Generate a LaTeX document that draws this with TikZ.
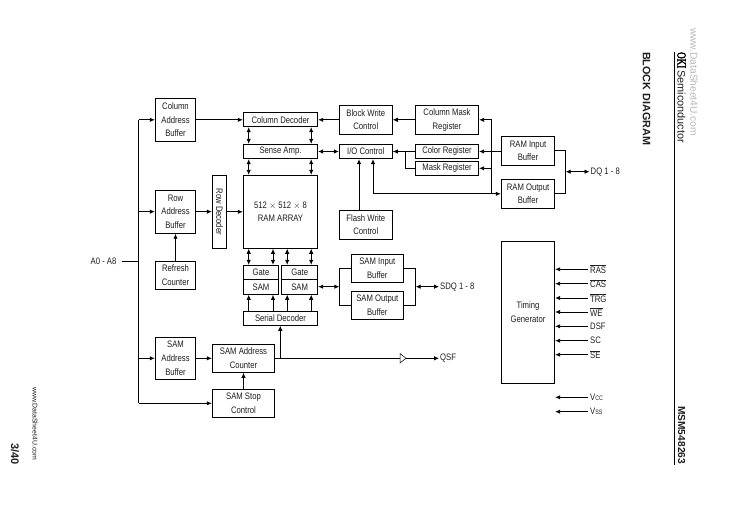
\documentclass[tikz,border=0pt]{standalone}
\usepackage{fontspec}
\setmainfont{Liberation Sans}[FakeStretch=0.82]
\newfontfamily\plainsans{Liberation Sans}
\newfontfamily\okifont{Liberation Serif}[FakeStretch=0.72,FakeBold=2.5]
\usetikzlibrary{arrows.meta,calc}
\definecolor{ink}{gray}{0.12}
\definecolor{wm}{gray}{0.72}
\tikzset{
  box/.style={draw=black,line width=0.9pt,fill=white,inner sep=0pt,align=center,text=ink,
    font=\fontsize{9.4}{13.6}\selectfont},
  wire/.style={draw=black,line width=0.9pt},
  to/.style={wire,-{Latex[length=5pt,width=4.5pt]}},
  both/.style={wire,{Latex[length=5pt,width=4.5pt]}-{Latex[length=5pt,width=4.5pt]}},
  lab/.style={inner sep=0pt,text=ink,font=\fontsize{9.4}{10}\selectfont,anchor=west},
}
\newcommand{\blk}[6]{%
  \pgfmathsetmacro{\bw}{#4-#2}\pgfmathsetmacro{\bh}{#5-#3}%
  \pgfmathsetmacro{\bx}{(#2+#4)/2}\pgfmathsetmacro{\by}{(#3+#5)/2}%
  \node[box,minimum width=\bw pt,minimum height=\bh pt] (#1) at (\bx,\by) {#6};}
\begin{document}
\begin{tikzpicture}[x=1pt,y=-1pt]
\useasboundingbox (0,0) rectangle (729,516);
% column positions
\coordinate (xa) at (248.7,0);
\coordinate (xb) at (273,0);
\coordinate (xc) at (287.2,0);
\coordinate (xd) at (311.2,0);
\coordinate (bus) at (138.7,0);
\coordinate (xf) at (359,0);
\coordinate (xo) at (373,0);
\coordinate (xm) at (405.3,0);
\coordinate (xv) at (491.7,0);
\coordinate (xq) at (565.7,0);
\coordinate (xl) at (339.3,0);
\coordinate (xr) at (415.7,0);
\coordinate (xt) at (280.3,0);
% blocks
\blk{cab}{155.3}{98.3}{195.7}{141.3}{Column\\Address\\Buffer}
\blk{rab}{155.3}{190}{195.7}{233.3}{Row\\Address\\Buffer}
\blk{ref}{155.3}{261.3}{195.7}{289.3}{Refresh\\Counter}
\blk{sab}{155.3}{337.3}{195.7}{379.3}{SAM\\Address\\Buffer}
\blk{cd}{243.3}{112.7}{317.7}{126.7}{Column Decoder}
\blk{sa}{243.3}{144.3}{317.7}{158.7}{Sense Amp.}
\blk{ram}{243.3}{175.3}{317.7}{248.3}{512 $\times$ 512 $\times$ 8\\RAM ARRAY}
\node[box,minimum width=14.4pt,minimum height=73pt] (rd) at (219.5,211.8) {};
\node[inner sep=0pt,rotate=-90,text=ink,font=\fontsize{9.4}{10}\selectfont] (rdt) at (219.5,211.8) {Row Decoder};
\blk{g1}{243.3}{265.3}{278.7}{279.3}{Gate}
\blk{s1}{243.3}{279.3}{278.7}{294.3}{SAM}
\blk{g2}{281.7}{265.3}{317.7}{279.3}{Gate}
\blk{s2}{281.7}{279.3}{317.7}{294.3}{SAM}
\blk{sd}{243.3}{311.3}{317.7}{325.3}{Serial Decoder}
\blk{sac}{212.3}{344.3}{274.7}{372.3}{SAM Address\\Counter}
\blk{ssc}{212.3}{389.3}{274.7}{417.3}{SAM Stop\\Control}
\blk{bwc}{339.3}{105.3}{392.3}{134.3}{Block Write\\Control}
\blk{io}{339.3}{144.3}{392.3}{158.7}{I/O Control}
\blk{fwc}{339.3}{210.3}{392.3}{239.3}{Flash Write\\Control}
\blk{cmr}{415.3}{105.3}{478.7}{134.3}{Column Mask\\Register}
\blk{cr}{415.3}{144.3}{478.7}{158.7}{Color Register}
\blk{mr}{415.3}{161.3}{478.7}{175.3}{Mask Register}
\blk{rib}{501.3}{136.3}{554.7}{165.3}{RAM Input\\Buffer}
\blk{rob}{501.3}{179.3}{554.7}{208.3}{RAM Output\\Buffer}
\blk{sib}{351.3}{254.3}{403.3}{282.3}{SAM Input\\Buffer}
\blk{sob}{351.3}{291.3}{403.3}{319.3}{SAM Output\\Buffer}
\blk{tg}{501.3}{241.3}{554.7}{383.3}{Timing\\Generator}
% address bus
\node[lab] (addr) at (90.5,261.3) {A0 - A8};
\coordinate (addrs) at (122.3,261.3);
\draw[wire] (addrs) -- (addrs -| bus);
\draw[wire] (cab.west -| bus) -- (bus |- 0,403.3);
\draw[to] (cab.west -| bus) -- (cab.west);
\draw[to] (rab.west -| bus) -- (rab.west);
\draw[to] (sab.west -| bus) -- (sab.west);
\draw[to] (bus |- ssc.west) -- (ssc.west);
\draw[to] (cab.east) -- (cab.east -| cd.west);
\draw[to] (rab.east) -- (rab.east -| rd.west);
\draw[to] (rd.east) -- (ram.west);
\draw[to] (ref.north) -- (rab.south);
\draw[to] (sab.east) -- (sac.west);
\draw[to] (ssc.north) -- (sac.south);
\draw[to] (sac.east -| xt) -- (sd.south -| xt);
% array column links
\draw[both] (cd.south -| xa) -- (sa.north -| xa);
\draw[both] (cd.south -| xd) -- (sa.north -| xd);
\draw[both] (sa.south -| xa) -- (ram.north -| xa);
\draw[both] (sa.south -| xd) -- (ram.north -| xd);
\draw[both] (ram.south -| xa) -- (g1.north -| xa);
\draw[both] (ram.south -| xb) -- (g1.north -| xb);
\draw[both] (ram.south -| xc) -- (g2.north -| xc);
\draw[both] (ram.south -| xd) -- (g2.north -| xd);
\draw[to] (sd.north -| xa) -- (s1.south -| xa);
\draw[to] (sd.north -| xb) -- (s1.south -| xb);
\draw[to] (sd.north -| xc) -- (s2.south -| xc);
\draw[to] (sd.north -| xd) -- (s2.south -| xd);
% data path
\draw[to] (bwc.west) -- (bwc.west -| cd.east);
\draw[to] (cmr.west) -- (bwc.east);
\draw[both] (sa.east) -- (io.west);
\draw[to] (cr.west) -- (io.east);
\coordinate (mrj) at (cr.west -| xm);
\draw[wire] (mrj) |- (mr.west);
\draw[to] (fwc.north -| xf) -- (io.south -| xf);
\draw[to] (cr.east -| rib.west) -- (cr.east);
\coordinate (vtop) at (cmr.east -| xv);
\coordinate (vbot) at (rob.west -| xv);
\draw[wire] (vtop) -- (vbot);
\draw[to] (vtop) -- (cmr.east);
\draw[to] (mr.east -| xv) -- (mr.east);
\draw[to] (rob.west -| xo) -- (io.south -| xo);
\draw[to] (rob.west -| xo) -- (rob.west);
\draw[wire] (rib.east) -| (xq |- rob.east) -- (rob.east);
\node[lab] (dq) at (590.5,171.7) {DQ 1 - 8};
\draw[both] (dq.west -| xq) -- ($(dq.west)+(-1,0)$);
% SAM buffers
\draw[wire] (sib.west) -| (xl |- sob.west) -- (sob.west);
\draw[wire] (sib.east) -| (xr |- sob.east) -- (sob.east);
\coordinate (samj) at (xl |- 0,286.7);
\draw[both] (samj -| s2.east) -- (samj);
\node[lab] (sdq) at (440,286.7) {SDQ 1 - 8};
\draw[both] (sdq.west -| xr) -- ($(sdq.west)+(-1,0)$);
% QSF
\node[lab] (qsf) at (440,358.3) {QSF};
\coordinate (ba) at (400,358.3);
\coordinate (bb) at (406,358.3);
\draw[wire] (sac.east) -- (ba);
\draw[line width=0.5pt,fill=white] (400,353.5) -- (bb) -- (400,363) -- cycle;
\draw[to] (bb) -- ($(qsf.west)+(-1,0)$);
% timing inputs
\node[lab] (ras) at (590,269.3) {$\overline{\hbox{RAS}}$};
\node[lab] (cas) at (590,283.7) {$\overline{\hbox{CAS}}$};
\node[lab] (trg) at (590,298) {$\overline{\hbox{TRG}}$};
\node[lab] (we)  at (590,312) {$\overline{\hbox{WE}}$};
\node[lab] (dsf) at (590,326.3) {DSF};
\node[lab] (sc)  at (590,340.7) {SC};
\node[lab] (se)  at (590,354.7) {$\overline{\hbox{SE}}$};
\node[lab] (vcc) at (590,397.3) {V{\fontsize{6.5}{7}\selectfont CC}};
\node[lab] (vss) at (590,411.7) {V{\fontsize{6.5}{7}\selectfont SS}};
\foreach \n in {ras,cas,trg,we,dsf,sc,se,vcc,vss}
  \draw[to] ($(\n.west)+(-2,0)$) -- (\n.west -| tg.east);
% page furniture
\draw[line width=0.8pt] (674.5,52) -- (674.5,465);
\node[inner sep=0pt,rotate=-90,anchor=west] (oki) at (681.5,52) {\okifont\fontsize{12.5}{12}\selectfont OKI};
\node[inner sep=0pt,rotate=-90,anchor=west,text=ink] (semi) at (681.5,70) {\plainsans\fontsize{10.9}{10}\selectfont Semiconductor};
\node[inner sep=0pt,rotate=-90,anchor=west,text=ink] (title) at (646.7,52) {\plainsans\bfseries\fontsize{10.8}{10}\selectfont BLOCK DIAGRAM};
\node[inner sep=0pt,rotate=-90,anchor=west,text=wm] (wm1) at (694,28) {\plainsans\fontsize{10.2}{10}\selectfont www.DataSheet4U.com};
\node[inner sep=0pt,rotate=-90,anchor=west,text=ink] (part) at (681.5,406) {\plainsans\bfseries\fontsize{10.2}{10}\selectfont MSM548263};
\node[inner sep=0pt,rotate=-90,anchor=west,text=ink] (wm2) at (35,387) {\plainsans\fontsize{6.9}{10}\selectfont www.DataSheet4U.com};
\node[inner sep=0pt,rotate=-90,anchor=west,text=ink] (pg) at (15,443) {\plainsans\bfseries\fontsize{11}{10}\selectfont 3/40};
\end{tikzpicture}
\end{document}
